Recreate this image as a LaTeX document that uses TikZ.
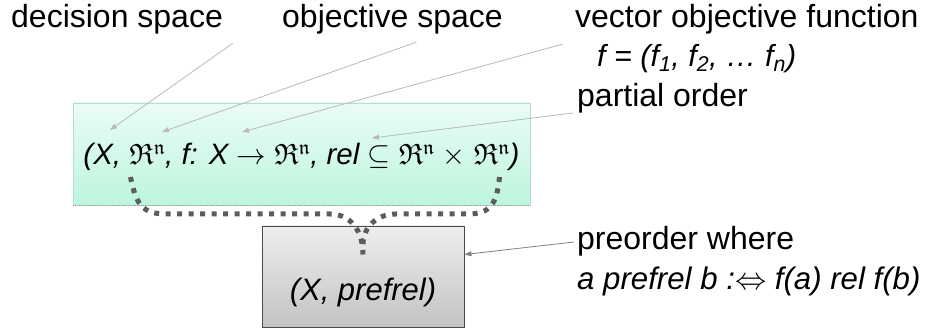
\documentclass[tikz,border=0pt]{standalone}
\usepackage{fontspec}
\setmainfont{Liberation Sans}
\usepackage{amsmath,amsfonts,amssymb}
\DeclareFontShape{OML}{cmm}{m}{it}{<-> cmmi10}{}
\DeclareFontShape{OMS}{cmsy}{m}{n}{<-> cmsy10}{}
\DeclareFontShape{OT1}{cmr}{m}{n}{<-> cmr10}{}
\DeclareFontFamily{U}{euf}{}
\DeclareFontShape{U}{euf}{m}{n}{<-> eufm10}{}
\DeclareFontShape{U}{euf}{b}{n}{<-> eufb10}{}
\usepackage{tikz}
\usetikzlibrary{arrows.meta,positioning}

\definecolor{mintTop}{HTML}{EAFCF4}
\definecolor{mintBot}{HTML}{BDF5DF}
\definecolor{mintEdge}{HTML}{B5DEC9}
\definecolor{greyTop}{HTML}{EEEEEE}
\definecolor{greyBot}{HTML}{C3C3C3}
\definecolor{greyEdge}{HTML}{4A4A4A}
\definecolor{dotGrey}{HTML}{5C5C5C}
\newcommand{\Rn}{\ensuremath{\mathfrak{R}^{\mathfrak{n}}}}

\begin{document}
\begin{tikzpicture}[x=1pt,y=-1pt,>=Latex,
  lbl/.style={inner sep=0pt,font=\fontsize{32}{38}\selectfont},
  leader/.style={gray!55,line width=0.8pt,-{Triangle[length=7pt,width=5pt]}},
  dotline/.style={dotGrey,line width=5pt,dash pattern=on 5pt off 6.5pt},
  tuplebox/.style={draw=mintEdge,top color=mintTop,bottom color=mintBot,inner sep=0pt},
  prebox/.style={draw=greyEdge,line width=0.9pt,top color=greyTop,bottom color=greyBot,inner sep=0pt}]
\useasboundingbox (0,0) rectangle (942,328);

% the tuple and the derived preorder
\node[tuplebox,minimum width=457pt,minimum height=102pt,text height=22pt,text depth=0pt,
  font=\fontsize{29.5}{35}\selectfont\itshape] (mop) at (301.5,154)
  {(X, \Rn, f: X $\rightarrow$ \Rn, rel $\subseteq$ \Rn\ $\times$ \Rn)};
\draw[gray!75,densely dotted,line width=1.2pt] (mop.south west) -- (mop.south east);
\node[prebox,minimum width=202pt,minimum height=101pt,text height=49pt,text depth=0pt,
  font=\fontsize{31}{37}\selectfont\itshape] (pf) at (363,276.5) {(X, prefrel)};

% annotations
\node[lbl,anchor=west] (dec) at (11,19) {decision space};
\node[lbl,anchor=west] (obj) at (282,19) {objective space};
\node[lbl,anchor=west] (vof) at (575,19) {vector objective function};
\node[lbl,anchor=west,font=\fontsize{30.5}{37}\selectfont\itshape] (fvec) at (597,59)
  {f = (f\textsubscript{1}, f\textsubscript{2}, … f\textsubscript{n})};
\node[lbl,anchor=west] (po) at (577,98) {partial order};
\node[lbl,anchor=west] (pre) at (577,241) {preorder where};
\node[lbl,anchor=west,font=\fontsize{31.2}{38}\selectfont\itshape] (def) at (577,281)
  {a prefrel b :$\Leftrightarrow$ f(a) rel f(b)};

\coordinate (tX) at (110,130);
\coordinate (tR) at (162,132);
\coordinate (tF) at (242,132);
\coordinate (tRel) at (372,138);
\draw[leader] ([shift={(10,24)}]dec.east) -- (tX);
\draw[leader] ([shift={(24,8)}]obj.south) -- (tR);
\draw[leader] ([shift={(-12,25)}]vof.west) -- (tF);
\draw[leader] ([shift={(-4,15)}]po.west) -- (tRel);
\draw[leader,gray] ([shift={(-3,1)}]pre.west) -- ([yshift=22pt]pf.east);

% dotted merge of the two spaces
\coordinate (dl) at ([shift={(-171,23)}]mop.center);
\coordinate (dr) at ([shift={(198,23)}]mop.center);
\draw[dotline] (dl) .. controls (136,204) and (142,214) .. (166,214) -- (330,214)
  .. controls (350,214) and (363,230) .. ([yshift=22pt]pf.center);
\draw[dotline] (dr) .. controls (497,204) and (490,214) .. (468,214) -- (396,214)
  .. controls (376,214) and (363,228) .. ([yshift=32pt]pf.center);
\end{tikzpicture}
\end{document}
